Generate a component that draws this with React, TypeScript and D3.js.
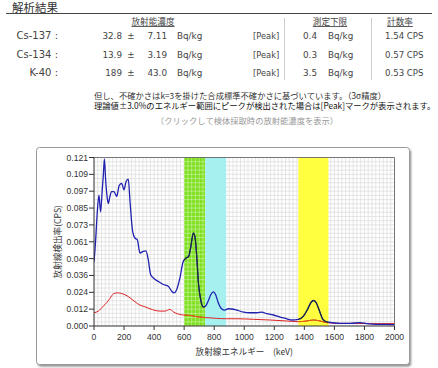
import React from "react";
import * as d3 from "d3";

const W = 438;
const H = 368;

// analysis table
const nuclides = ["Cs-137 :", "Cs-134 :", "K-40 :"];
const activity = ["32.8", "13.9", "189"];
const uncertainty = ["7.11", "3.19", "43.0"];
const peakMark = ["[Peak]", "[Peak]", "[Peak]"];
const detectLimit = ["0.4", "0.3", "3.5"];
const countRate = ["1.54 CPS", "0.57 CPS", "0.53 CPS"];

// spectrum [keV, CPS]
const sample: [number, number][] = [
  [0, 0.046], [10, 0.06], [22, 0.082], [33, 0.094], [44, 0.082], [55, 0.098],
  [62, 0.108], [69, 0.12], [78, 0.104], [88, 0.092], [95, 0.088], [106, 0.093],
  [117, 0.0965], [133, 0.0965], [151, 0.093], [168, 0.101], [184, 0.1024],
  [200, 0.0977], [213, 0.1036], [228, 0.1055], [240, 0.089], [257, 0.068],
  [273, 0.063], [288, 0.062], [306, 0.0524], [328, 0.0536], [346, 0.054],
  [361, 0.0476], [377, 0.037], [395, 0.0345], [428, 0.032], [461, 0.0298],
  [494, 0.0286], [517, 0.025], [534, 0.0238], [550, 0.026], [572, 0.0345],
  [594, 0.0464], [616, 0.049], [630, 0.05], [643, 0.056], [661, 0.0667],
  [672, 0.064], [683, 0.051], [696, 0.0298], [712, 0.0179], [727, 0.0136],
  [743, 0.0143], [760, 0.0179], [778, 0.0226], [794, 0.0245], [809, 0.0226],
  [827, 0.0167], [849, 0.0124], [871, 0.0114], [894, 0.0124], [916, 0.0122],
  [950, 0.0114], [995, 0.01], [1039, 0.0095], [1083, 0.0095], [1117, 0.01],
  [1150, 0.0088], [1194, 0.0079], [1239, 0.0064], [1283, 0.0052], [1316, 0.0043],
  [1361, 0.0048], [1394, 0.0071], [1421, 0.0119], [1443, 0.0167], [1461, 0.0183],
  [1479, 0.0167], [1501, 0.0107], [1523, 0.0048], [1550, 0.0029], [1583, 0.0024],
  [1639, 0.0019], [1705, 0.0019], [1772, 0.0024], [1816, 0.0017], [1883, 0.0012],
  [1949, 0.0012], [2000, 0.001],
];

const background: [number, number][] = [
  [0, 0.0095], [29, 0.0107], [62, 0.0143], [84, 0.0167], [106, 0.0198],
  [129, 0.0231], [155, 0.0238], [184, 0.0233], [213, 0.0221], [240, 0.0202],
  [273, 0.0174], [306, 0.015], [339, 0.0138], [373, 0.0124], [406, 0.0112],
  [439, 0.0107], [472, 0.0107], [505, 0.0119], [528, 0.0102], [554, 0.0088],
  [594, 0.0079], [639, 0.0076], [683, 0.0067], [749, 0.006], [816, 0.0055],
  [882, 0.0052], [950, 0.0052], [1061, 0.0048], [1172, 0.0043], [1283, 0.0036],
  [1361, 0.0031], [1416, 0.0036], [1461, 0.0043], [1505, 0.0036], [1550, 0.0024],
  [1639, 0.0019], [1727, 0.0019], [1838, 0.0017], [1949, 0.0017], [2000, 0.0017],
];

// energy windows
const bands = [
  { from: 600, to: 740, color: "#7fe020", grid: true, dark: true },
  { from: 740, to: 880, color: "#a6f0f0", grid: false, dark: false },
  { from: 1360, to: 1560, color: "#ffff40", grid: false, dark: true },
];

const xTicks = [0, 200, 400, 600, 800, 1000, 1200, 1400, 1600, 1800, 2000];
const yTickLabels = ["0.000", "0.012", "0.024", "0.036", "0.049", "0.061", "0.073", "0.085", "0.097", "0.109", "0.121"];
const yMax = 0.121;

const plot = { left: 94, right: 394.5, top: 157.5, bottom: 326 };
const x = d3.scaleLinear().domain([0, 2000]).range([plot.left, plot.right]);
const y = d3.scaleLinear().domain([0, yMax]).range([plot.bottom, plot.top]);

const line = d3
  .line<[number, number]>()
  .x((d) => x(d[0]))
  .y((d) => y(d[1]))
  .curve(d3.curveMonotoneX);

const latin = "'DejaVu Sans', Verdana, sans-serif";
const jp = "'Noto Sans CJK JP', sans-serif";
const tickFont = "'Liberation Sans', Arial, sans-serif";

export default function App() {
  const gridX = d3.range(0, 2001, 25);
  const gridY = d3.range(0, 41).map((i) => (i * yMax) / 40);
  const rowY = [39, 57.5, 75.5];

  return (
    <svg width={W} height={H} style={{ position: "absolute", left: 0, top: 0 }}>
      <defs>
        <clipPath id="plotClip">
          <rect x={plot.left} y={plot.top} width={plot.right - plot.left} height={plot.bottom - plot.top} />
        </clipPath>
        <clipPath id="gridBand">
          {bands.filter((b) => b.grid).map((b, i) => (
            <rect key={i} x={x(b.from)} y={plot.top} width={x(b.to) - x(b.from)} height={plot.bottom - plot.top} />
          ))}
        </clipPath>
        <clipPath id="darkBand">
          {bands.filter((b) => b.dark).map((b, i) => (
            <rect key={i} x={x(b.from)} y={plot.top} width={x(b.to) - x(b.from)} height={plot.bottom - plot.top} />
          ))}
        </clipPath>
        <filter id="shadow" x="-5%" y="-5%" width="110%" height="110%">
          <feGaussianBlur stdDeviation="1.2" />
        </filter>
      </defs>

      <rect width={W} height={H} fill="#fff" />

      {/* heading */}
      <text x={12} y={12} fontFamily={jp} fontSize={11.5} fill="#333">解析結果</text>
      <line x1={6} x2={432} y1={13.5} y2={13.5} stroke="#444" strokeWidth={1} />

      <g fontFamily={jp} fontSize={8.6} fill="#444" textAnchor="middle" textDecoration="underline">
        <text x={153} y={25}>放射能濃度</text>
        <text x={330} y={25}>測定下限</text>
        <text x={400} y={25}>計数率</text>
      </g>
      <line x1={284.5} x2={284.5} y1={18} y2={80} stroke="#ccc" />
      <line x1={371.5} x2={371.5} y1={18} y2={80} stroke="#ccc" />

      {nuclides.map((n, i) => (
        <g key={n} fill="#444" fontFamily={latin}>
          <text x={58} y={rowY[i]} fontSize={10} textAnchor="end">{n}</text>
          <text x={122} y={rowY[i]} fontSize={8.8} textAnchor="end">{activity[i]}</text>
          <text x={131} y={rowY[i]} fontSize={8.8} textAnchor="middle">±</text>
          <text x={167} y={rowY[i]} fontSize={8.8} textAnchor="end">{uncertainty[i]}</text>
          <text x={177} y={rowY[i]} fontSize={8.8}>Bq/kg</text>
          <text x={253} y={rowY[i]} fontSize={8.3}>{peakMark[i]}</text>
          <text x={317} y={rowY[i]} fontSize={8.8} textAnchor="end">{detectLimit[i]}</text>
          <text x={328} y={rowY[i]} fontSize={8.8}>Bq/kg</text>
          <text x={385} y={rowY[i]} fontSize={8.6}>{countRate[i]}</text>
        </g>
      ))}

      <g fontFamily={jp} fontSize={8.3}>
        <text x={94} y={98.5} fill="#333">但し、不確かさはk=3を掛けた合成標準不確かさに基づいています。（3σ精度）</text>
        <text x={94} y={109} fill="#111">理論値±3.0%のエネルギー範囲にピークが検出された場合は[Peak]マークが表示されます。</text>
        <text x={247} y={124} fill="#999" textAnchor="middle">（クリックして検体採取時の放射能濃度を表示）</text>
      </g>

      {/* chart frame */}
      <rect x={38} y={149.5} width={373} height={217} rx={3} fill="#888" filter="url(#shadow)" />
      <rect x={36.5} y={147.5} width={373} height={217} rx={3} fill="#fff" stroke="#999" />

      {/* grid */}
      <g clipPath="url(#plotClip)">
        {gridX.map((g) => (
          <line key={"gx" + g} x1={x(g)} x2={x(g)} y1={plot.top} y2={plot.bottom} stroke="#dedede" strokeWidth={0.8} />
        ))}
        {gridY.map((g, i) => (
          <line key={"gy" + i} x1={plot.left} x2={plot.right} y1={y(g)} y2={y(g)} stroke="#dedede" strokeWidth={0.8} />
        ))}
      </g>

      {/* energy windows */}
      {bands.map((b, i) => (
        <rect key={i} x={x(b.from)} y={plot.top} width={x(b.to) - x(b.from)} height={plot.bottom - plot.top} fill={b.color} />
      ))}
      <g clipPath="url(#gridBand)">
        {gridX.map((g) => (
          <line key={"bx" + g} x1={x(g)} x2={x(g)} y1={plot.top} y2={plot.bottom} stroke="#ffffff" strokeOpacity={0.45} strokeWidth={0.8} />
        ))}
        {gridY.map((g, i) => (
          <line key={"by" + i} x1={plot.left} x2={plot.right} y1={y(g)} y2={y(g)} stroke="#ffffff" strokeOpacity={0.45} strokeWidth={0.8} />
        ))}
      </g>

      {/* spectra */}
      <g clipPath="url(#plotClip)" fill="none">
        <path d={line(background) || ""} stroke="#dd2020" strokeWidth={1} />
        <path d={line(sample) || ""} stroke="#2020b0" strokeWidth={1.3} />
        <g clipPath="url(#darkBand)">
          <path d={line(background) || ""} stroke="#e06010" strokeWidth={1} />
          <path d={line(sample) || ""} stroke="#1a2a30" strokeWidth={1.1} />
        </g>
      </g>

      {/* plot border */}
      <line x1={plot.left} x2={plot.right} y1={plot.top} y2={plot.top} stroke="#555" strokeWidth={0.8} />
      <line x1={plot.right} x2={plot.right} y1={plot.top} y2={plot.bottom} stroke="#555" strokeWidth={0.8} />
      <line x1={plot.left} x2={plot.left} y1={plot.top} y2={plot.bottom} stroke="#333" />
      <line x1={plot.left} x2={plot.right} y1={plot.bottom} y2={plot.bottom} stroke="#333" />

      {/* axes */}
      <g fontFamily={tickFont} fontSize={8.6} fill="#333">
        {yTickLabels.map((lab, i) => {
          const v = (i * yMax) / 10;
          return (
            <g key={lab}>
              <line x1={plot.left - 5} x2={plot.left} y1={y(v)} y2={y(v)} stroke="#333" />
              <text x={plot.left - 6} y={y(v) + 3} textAnchor="end">{lab}</text>
            </g>
          );
        })}
        {xTicks.map((t) => (
          <g key={t}>
            <line x1={x(t)} x2={x(t)} y1={plot.bottom} y2={plot.bottom + 4} stroke="#333" />
            <text x={x(t)} y={plot.bottom + 14} textAnchor="middle">{t}</text>
          </g>
        ))}
      </g>

      <text x={x(1000)} y={355} fontFamily={jp} fontSize={8.6} fill="#333" textAnchor="middle">
        放射線エネルギー　(keV)
      </text>
      <text
        transform={`translate(61,${(plot.top + plot.bottom) / 2}) rotate(-90)`}
        fontFamily={jp}
        fontSize={8.6}
        fill="#333"
        textAnchor="middle"
      >
        放射線検出率(CPS)
      </text>
    </svg>
  );
}
